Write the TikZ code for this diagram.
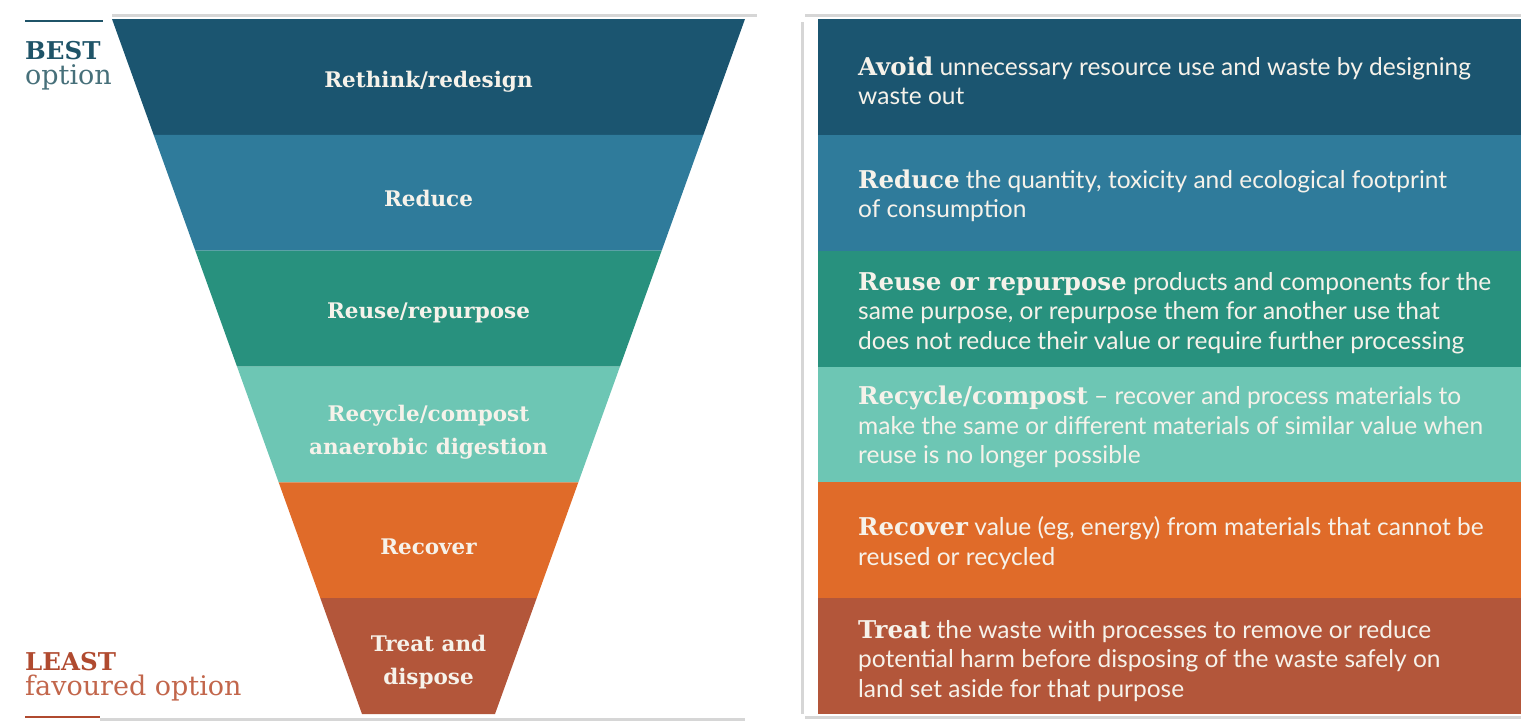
\documentclass[tikz,border=0pt]{standalone}
\usepackage{fontspec}
\setmainfont{Lato}
\newfontfamily\slab{DejaVu Serif}
\usetikzlibrary{calc}
\definecolor{c1}{HTML}{1B5570}
\definecolor{c2}{HTML}{2F7B9B}
\definecolor{c3}{HTML}{28917E}
\definecolor{c4}{HTML}{6DC6B4}
\definecolor{c5}{HTML}{E06B29}
\definecolor{c6}{HTML}{B3563A}
\definecolor{txt}{HTML}{F6F2EA}
\definecolor{bestc}{HTML}{1F5468}
\definecolor{optc}{HTML}{47707A}
\definecolor{leastc}{HTML}{B04A2F}
\definecolor{favc}{HTML}{C2664B}
\definecolor{ghost}{HTML}{D6D6D6}
\begin{document}
\begin{tikzpicture}[x=1pt,y=-1pt,
  flabel/.style={font=\slab\bfseries\fontsize{21.5}{33}\selectfont, text=txt, align=center, inner sep=0pt},
  desc/.style={anchor=west, font=\fontsize{24.5}{29.5}\selectfont, text=txt, align=left, inner sep=0pt},
  side/.style={anchor=base west, inner sep=0pt},
  ghostline/.style={draw=ghost, line width=3pt}]
\useasboundingbox (0,0) rectangle (1521,728);
% faint frame lines
\draw[ghostline] (112,15) -- (757,15);
\draw[ghostline] (805,15) -- (1521,15);
\draw[ghostline] (802,22) -- (802,714);
\draw[ghostline] (100,719) -- (745,719);
\draw[ghostline] (805,717) -- (1521,717);
% funnel corners
\coordinate (tl) at (112,19); \coordinate (tr) at (745,19);
\coordinate (bl) at (362,714); \coordinate (br) at (495,714);
\foreach \c [count=\n from 0, evaluate=\n as \m using int(\n+1)] in {c1,c2,c3,c4,c5,c6}{
  \fill[\c] ($(tl)!{\n/6}!(bl)$) -- ($(tr)!{\n/6}!(br)$) -- ($(tr)!{\m/6}!(br)$) -- ($(tl)!{\m/6}!(bl)$) -- cycle;
  \fill[\c] (818,{19+\n*115.833}) rectangle (1521,{19+\m*115.833});
}
% funnel labels
\node[flabel] (f1) at (428.5,82) {Rethink/redesign};
\node[flabel] (f2) at (428.5,198) {Reduce};
\node[flabel] (f3) at (428.5,313) {Reuse/repurpose};
\node[flabel] (f4) at (428.5,432) {Recycle/compost\\anaerobic digestion};
\node[flabel] (f5) at (428.5,547) {Recover};
\node[flabel] (f6) at (428.5,662) {Treat and\\dispose};
% descriptions
\node[desc] (d1) at (858,81) {{\slab\bfseries Avoid} unnecessary resource use and waste by designing\\waste out};
\node[desc] (d2) at (858,196) {{\slab\bfseries Reduce} the quantity, toxicity and ecological footprint\\of consumption};
\node[desc] (d3) at (858,313) {{\slab\bfseries Reuse or repurpose} products and components for the\\same purpose, or repurpose them for another use that\\does not reduce their value or require further processing};
\node[desc] (d4) at (858,427) {{\slab\bfseries Recycle/compost} -- recover and process materials to\\make the same or different materials of similar value when\\reuse is no longer possible};
\node[desc] (d5) at (858,543) {{\slab\bfseries Recover} value (eg, energy) from materials that cannot be\\reused or recycled};
\node[desc] (d6) at (858,661) {{\slab\bfseries Treat} the waste with processes to remove or reduce\\potential harm before disposing of the waste safely on\\land set aside for that purpose};
% best / least
\draw[bestc, line width=2.5pt] (25,21) -- (103,21);
\node[side, text=bestc, font=\slab\bfseries\fontsize{24.5}{24}\selectfont] (best) at (25,59) {BEST};
\node[side, text=optc, font=\slab\fontsize{27}{27}\selectfont] (opt) at (25,84) {option};
\node[side, text=leastc, font=\slab\bfseries\fontsize{24.5}{24}\selectfont] (least) at (25,670) {LEAST};
\node[side, text=favc, font=\slab\fontsize{27}{27}\selectfont] (fav) at (25,695) {favoured option};
\draw[leastc, line width=2.5pt] (25,717) -- (100,717);
\end{tikzpicture}
\end{document}
